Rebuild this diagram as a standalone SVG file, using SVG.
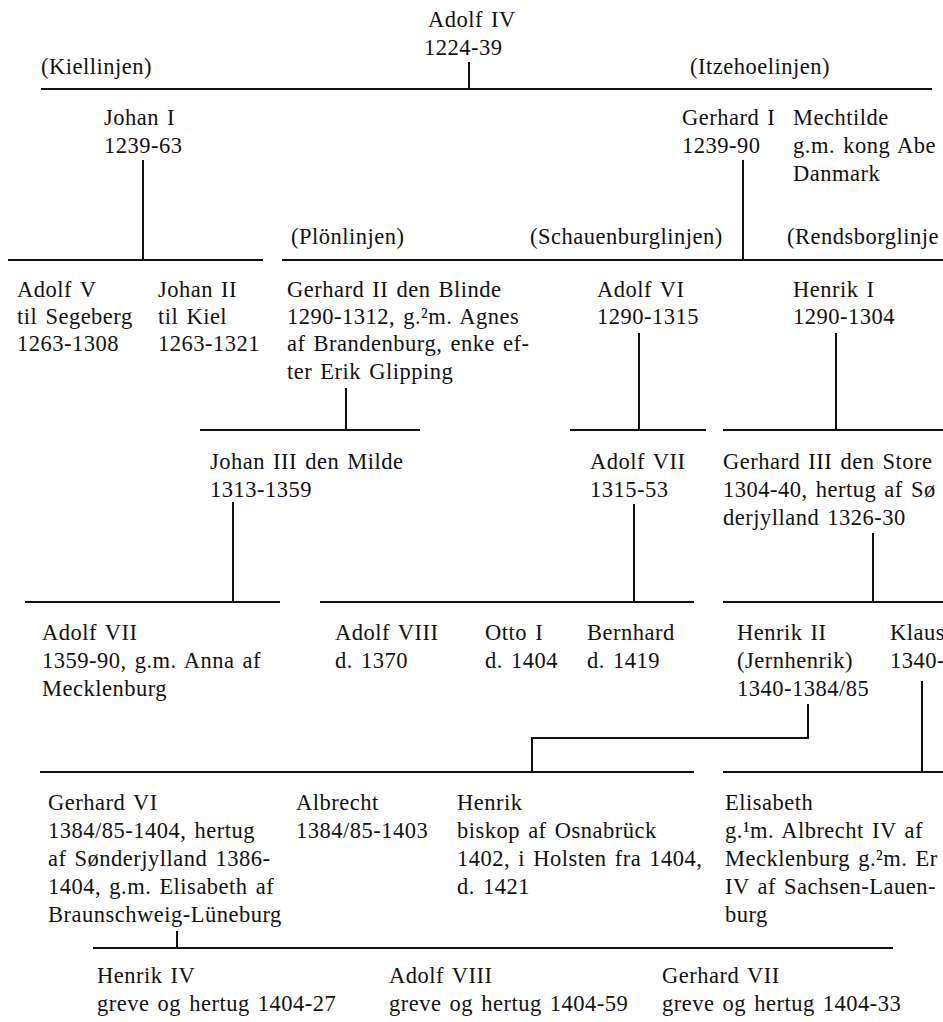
<svg xmlns="http://www.w3.org/2000/svg" width="943" height="1022" viewBox="0 0 943 1022">
<style>
text{font-family:"Liberation Serif","Times New Roman",serif;font-size:22.5px;fill:#111;letter-spacing:0.5px;word-spacing:2px}
.c line,.c polyline{stroke:#111;stroke-width:2;fill:none}
</style>
<rect width="943" height="1022" fill="#fff"/>
<g class="c" id="connectors">
<line x1="41" y1="89" x2="932" y2="89"/>
<line x1="469" y1="62" x2="469" y2="89"/>
<line x1="143" y1="160" x2="143" y2="260"/>
<line x1="743" y1="160" x2="743" y2="260"/>
<line x1="8" y1="260" x2="263" y2="260"/>
<line x1="282" y1="260" x2="943" y2="260"/>
<line x1="346" y1="388" x2="346" y2="430"/>
<line x1="639" y1="333" x2="639" y2="430"/>
<line x1="836" y1="333" x2="836" y2="430"/>
<line x1="200" y1="430" x2="420" y2="430"/>
<line x1="570" y1="430" x2="706" y2="430"/>
<line x1="723" y1="430" x2="943" y2="430"/>
<line x1="233" y1="502" x2="233" y2="602"/>
<line x1="634" y1="504" x2="634" y2="602"/>
<line x1="873" y1="533" x2="873" y2="602"/>
<line x1="25" y1="602" x2="280" y2="602"/>
<line x1="320" y1="602" x2="694" y2="602"/>
<line x1="723" y1="602" x2="943" y2="602"/>
<polyline points="808,704 808,738 532,738 532,772"/>
<line x1="922" y1="681" x2="922" y2="772"/>
<line x1="40" y1="772" x2="694" y2="772"/>
<line x1="723" y1="772" x2="943" y2="772"/>
<line x1="177" y1="931" x2="177" y2="948"/>
<line x1="93" y1="948" x2="893" y2="948"/>
</g>
<g id="labels">
<text x="41" y="74">(Kiellinjen)</text>
<text x="690" y="74">(Itzehoelinjen)</text>
<text x="291" y="244">(Plönlinjen)</text>
<text x="530" y="244">(Schauenburglinjen)</text>
<text x="787" y="244">(Rendsborglinje</text>
</g>
<g id="adolf4"><text x="428" y="27">Adolf IV</text><text x="424" y="55">1224-39</text></g>
<g id="johan1"><text x="104" y="125">Johan I</text><text x="104" y="153">1239-63</text></g>
<g id="gerhard1"><text x="682" y="125">Gerhard I</text><text x="682" y="153">1239-90</text></g>
<g id="mechtilde"><text x="793" y="125">Mechtilde</text><text x="793" y="153">g.m. kong Abe</text><text x="793" y="181">Danmark</text></g>
<g id="adolf5"><text x="17" y="297">Adolf V</text><text x="17" y="324">til Segeberg</text><text x="17" y="351">1263-1308</text></g>
<g id="johan2"><text x="158" y="297">Johan II</text><text x="158" y="324">til Kiel</text><text x="158" y="351">1263-1321</text></g>
<g id="gerhard2"><text x="287" y="297">Gerhard II den Blinde</text><text x="287" y="324">1290-1312, g.²m. Agnes</text><text x="287" y="351">af Brandenburg, enke ef-</text><text x="287" y="379">ter Erik Glipping</text></g>
<g id="adolf6"><text x="597" y="297">Adolf VI</text><text x="597" y="324">1290-1315</text></g>
<g id="henrik1"><text x="793" y="297">Henrik I</text><text x="793" y="324">1290-1304</text></g>
<g id="johan3"><text x="210" y="469">Johan III den Milde</text><text x="210" y="497">1313-1359</text></g>
<g id="adolf7a"><text x="590" y="469">Adolf VII</text><text x="590" y="497">1315-53</text></g>
<g id="gerhard3"><text x="723" y="469">Gerhard III den Store</text><text x="723" y="497">1304-40, hertug af Sø</text><text x="723" y="525">derjylland 1326-30</text></g>
<g id="adolf7b"><text x="42" y="640">Adolf VII</text><text x="42" y="668">1359-90, g.m. Anna af</text><text x="42" y="696">Mecklenburg</text></g>
<g id="adolf8a"><text x="335" y="640">Adolf VIII</text><text x="335" y="668">d. 1370</text></g>
<g id="otto1"><text x="485" y="640">Otto I</text><text x="485" y="668">d. 1404</text></g>
<g id="bernhard"><text x="587" y="640">Bernhard</text><text x="587" y="668">d. 1419</text></g>
<g id="henrik2"><text x="737" y="640">Henrik II</text><text x="737" y="668">(Jernhenrik)</text><text x="737" y="696">1340-1384/85</text></g>
<g id="klaus"><text x="890" y="640">Klaus</text><text x="890" y="668">1340-</text></g>
<g id="gerhard6"><text x="48" y="810">Gerhard VI</text><text x="48" y="838">1384/85-1404, hertug</text><text x="48" y="866">af Sønderjylland 1386-</text><text x="48" y="894">1404, g.m. Elisabeth af</text><text x="48" y="922">Braunschweig-Lüneburg</text></g>
<g id="albrecht"><text x="296" y="810">Albrecht</text><text x="296" y="838">1384/85-1403</text></g>
<g id="henrik"><text x="457" y="810">Henrik</text><text x="457" y="838">biskop af Osnabrück</text><text x="457" y="866">1402, i Holsten fra 1404,</text><text x="457" y="894">d. 1421</text></g>
<g id="elisabeth"><text x="725" y="810">Elisabeth</text><text x="725" y="838">g.¹m. Albrecht IV af</text><text x="725" y="866">Mecklenburg g.²m. Er</text><text x="725" y="894">IV af Sachsen-Lauen-</text><text x="725" y="922">burg</text></g>
<g id="henrik4"><text x="97" y="983">Henrik IV</text><text x="97" y="1011">greve og hertug 1404-27</text></g>
<g id="adolf8b"><text x="389" y="983">Adolf VIII</text><text x="389" y="1011">greve og hertug 1404-59</text></g>
<g id="gerhard7"><text x="662" y="983">Gerhard VII</text><text x="662" y="1011">greve og hertug 1404-33</text></g>
</svg>
